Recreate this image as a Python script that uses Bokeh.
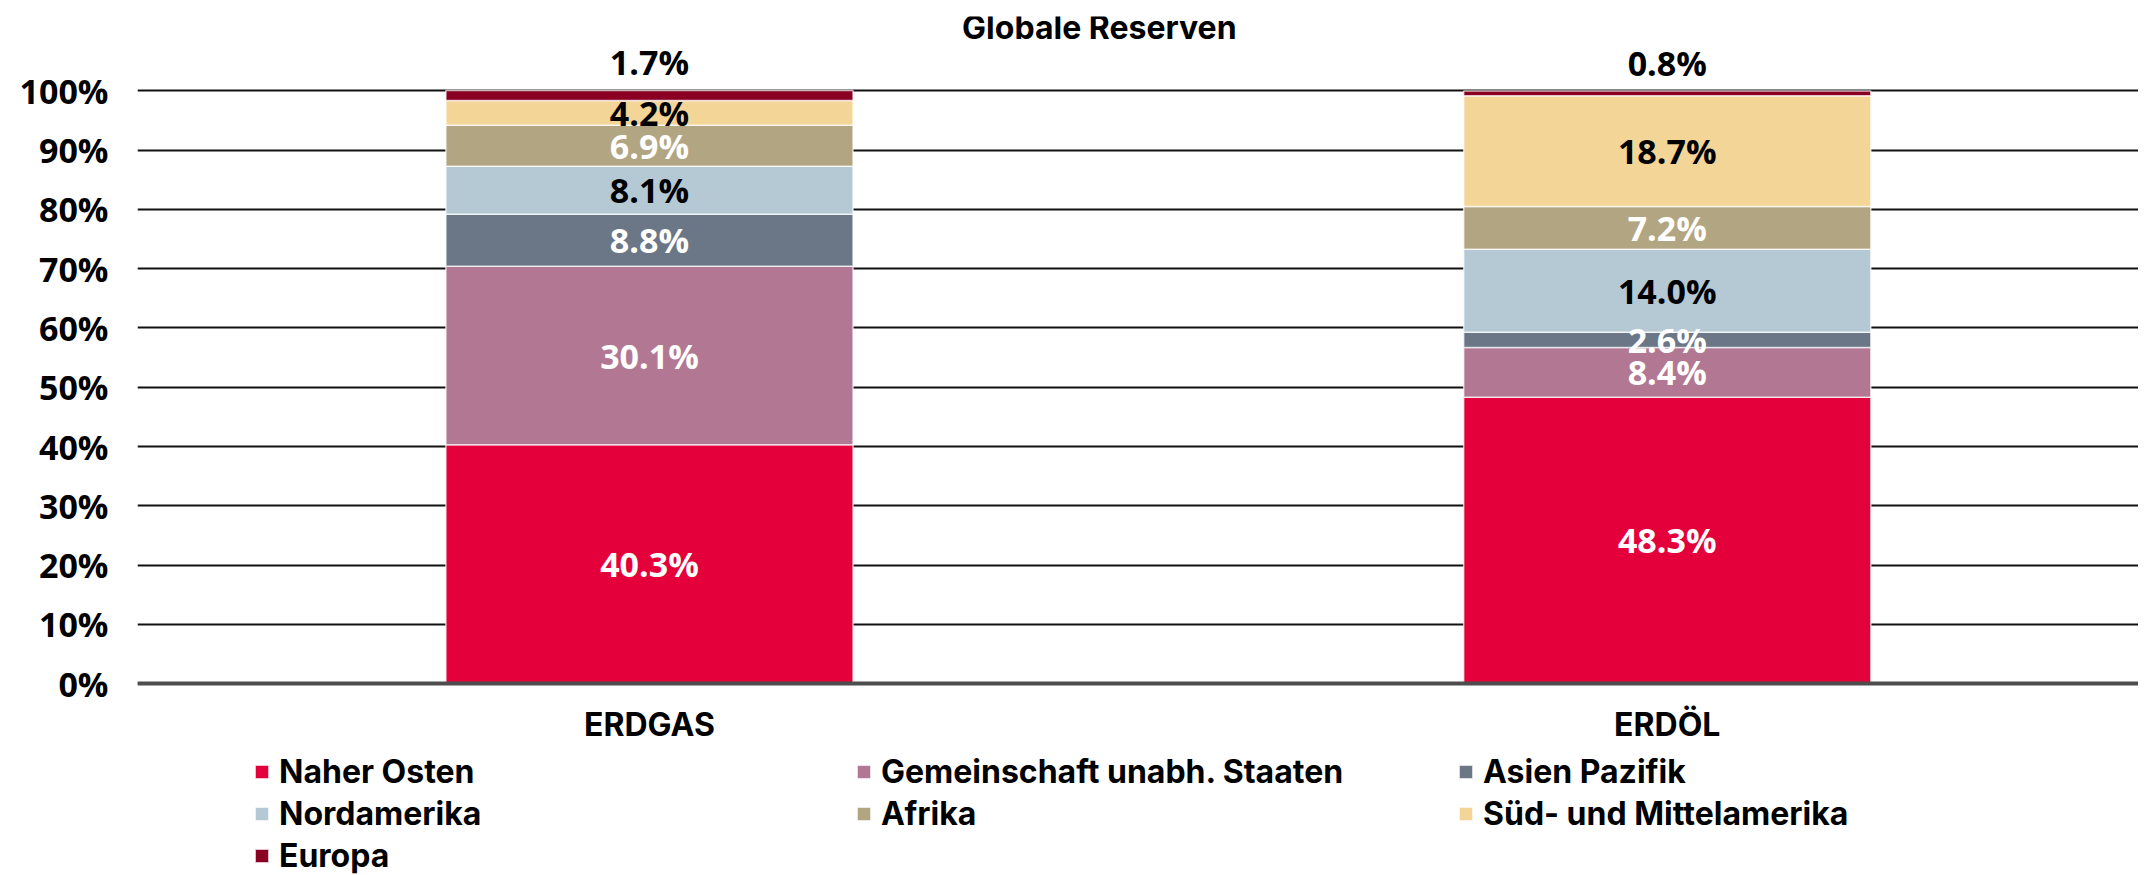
from bokeh.plotting import figure
from bokeh.models import Range1d, FixedTicker, Legend, LegendItem, ColumnDataSource, Span
from bokeh.embed import file_html
from bokeh.resources import INLINE
from bokeh.core.properties import value

# ---------------- data ----------------
title_text = "Globale Reserven"
categories = ["ERDGAS", "ERDÖL"]
regions = ["Naher Osten", "Gemeinschaft unabh. Staaten", "Asien Pazifik",
           "Nordamerika", "Afrika", "Süd- und Mittelamerika", "Europa"]
naher_osten = [40.3, 48.3]
gemeinschaft = [30.1, 8.4]
asien_pazifik = [8.8, 2.6]
nordamerika = [8.1, 14.0]
afrika = [6.9, 7.2]
sued_mittelamerika = [4.2, 18.7]
europa = [1.7, 0.8]
y_ticks = [0, 10, 20, 30, 40, 50, 60, 70, 80, 90, 100]
y_tick_labels = ["0%", "10%", "20%", "30%", "40%", "50%", "60%", "70%", "80%", "90%", "100%"]

series = [naher_osten, gemeinschaft, asien_pazifik, nordamerika, afrika,
          sued_mittelamerika, europa]
colors = ["#E4003A", "#B27893", "#6B7787", "#B5C9D4", "#B2A582", "#F4D598", "#8A0023"]
label_colors = ["white", "white", "white", "black", "white", "black", "black"]
label_above = [False, False, False, False, False, False, True]

NUM_FONT = "Open Sans"
TEXT_FONT = "Inter"

# ---------------- figure ----------------
p = figure(width=2138, height=875,
           x_range=Range1d(-0.003, 1.963), y_range=Range1d(-32.4, 112.57),
           x_axis_location=None,
           output_backend="svg", toolbar_location=None,
           min_border_left=137, min_border_right=0,
           min_border_top=16, min_border_bottom=0)
p.outline_line_color = None
p.background_fill_color = "white"
p.border_fill_color = "white"

xs = [i + 0.5 for i in range(len(categories))]
bar_width = 0.4

bottoms = [0.0] * len(categories)
renderers = []
lx, ly, ltxt, lcol = [], [], [], []
for vals, col, lc, above in zip(series, colors, label_colors, label_above):
    tops = [b + v for b, v in zip(bottoms, vals)]
    src = ColumnDataSource(dict(x=xs, bottom=bottoms, top=tops))
    r = p.vbar(x="x", bottom="bottom", top="top", width=bar_width, source=src,
               fill_color=col, line_color="white", line_width=1.5, line_alpha=0.7)
    renderers.append(r)
    for x, b, t, v in zip(xs, bottoms, tops, vals):
        lx.append(x)
        ly.append(t + 4.8 if above else (b + t) / 2)
        ltxt.append(f"{v:.1f}%")
        lcol.append(lc)
    bottoms = tops

p.text(x="x", y="y", text="text", text_color="color",
       source=ColumnDataSource(dict(x=lx, y=ly, text=ltxt, color=lcol)),
       text_font=value(NUM_FONT), text_font_style="bold", text_font_size="34px",
       text_align="center", text_baseline="middle")

# title
p.text(x=[0.942], y=[110.7], text=[title_text], text_color="black",
       text_font=value(TEXT_FONT), text_font_style="bold", text_font_size="32px",
       text_align="center", text_baseline="middle")

# category labels (x axis)
p.text(x=xs, y=[-6.9] * len(xs), text=categories, text_color="black",
       text_font=value(TEXT_FONT), text_font_style="bold", text_font_size="32px",
       text_align="center", text_baseline="middle")

# baseline at 0%
p.add_layout(Span(location=0, dimension="width", line_color="#4d4d4d", line_width=4))

# ---------------- y axis ----------------
p.yaxis.ticker = FixedTicker(ticks=y_ticks)
p.yaxis.major_label_overrides = {t: l for t, l in zip(y_ticks, y_tick_labels)}
p.yaxis.axis_line_color = None
p.yaxis.major_tick_line_color = None
p.yaxis.minor_tick_line_color = None
p.yaxis.major_label_standoff = 23
p.yaxis.major_label_text_font = NUM_FONT
p.yaxis.major_label_text_font_style = "bold"
p.yaxis.major_label_text_font_size = "34px"
p.yaxis.major_label_text_color = "black"

p.xgrid.grid_line_color = None
p.ygrid.ticker = FixedTicker(ticks=y_ticks)
p.ygrid.grid_line_color = "#111111"
p.ygrid.grid_line_width = 2

# ---------------- legend ----------------
items = [LegendItem(label=name, renderers=[r]) for name, r in zip(regions, renderers)]
legend = Legend(items=items, location=(116, 0), orientation="horizontal", ncols=3,
                glyph_width=17, glyph_height=17, label_standoff=9,
                label_width=573, label_height=28, spacing=3, padding=0, margin=0,
                border_line_color=None, background_fill_alpha=0,
                label_text_font=TEXT_FONT, label_text_font_style="bold",
                label_text_font_size="32px", label_text_color="black")
p.add_layout(legend, "center")

open("out.html", "w").write(file_html(p, INLINE))
